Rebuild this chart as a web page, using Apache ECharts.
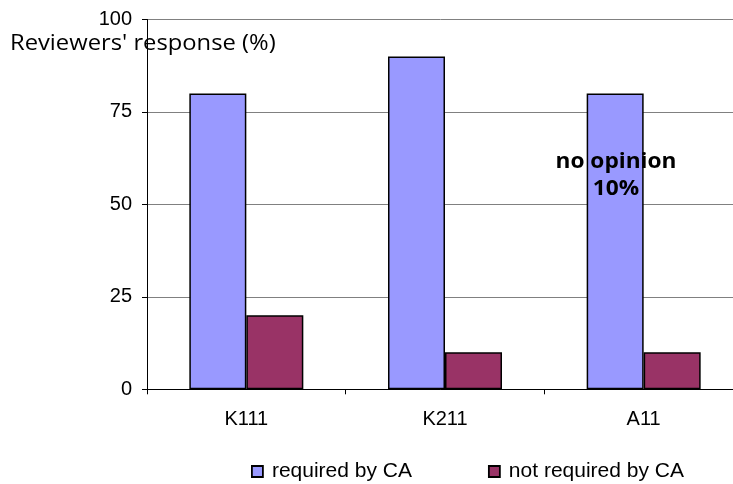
<!DOCTYPE html>
<html>
<head>
<meta charset="utf-8">
<script src="https://cdn.jsdelivr.net/npm/echarts@6/dist/echarts.min.js"></script>
<style>
  html, body { margin: 0; padding: 0; background: #fff; }
  #chart { width: 733px; height: 484px; }
</style>
</head>
<body>
<div id="chart"></div>
<script>
// Survey results per reviewer group
const categories = ['K111', 'K211', 'A11'];
const requiredByCA = [80, 90, 80];
const notRequiredByCA = [20, 10, 10];
const seriesNames = ['required by CA', 'not required by CA'];
const yTicks = { min: 0, max: 100, interval: 25 };
const axisTitle = "Reviewers' response (%)";
const noteLines = ['no opinion', '10%'];

const chart = echarts.init(document.getElementById('chart'), null, { renderer: 'canvas' });

const labelFont = 'Liberation Sans, Arial, sans-serif';
const titleFont = 'Open Sans, sans-serif';

chart.setOption({
  animation: false,
  backgroundColor: '#ffffff',
  // plot area runs slightly past the right edge of the canvas
  grid: {
    left: 147, width: 596, top: 19.5, height: 369.8,
    containLabel: false, outerBoundsMode: 'none'
  },
  legend: {
    data: seriesNames,
    top: 456,
    left: 246,
    itemWidth: 11,
    itemHeight: 11,
    itemGap: 76,
    icon: 'rect',
    itemStyle: { borderColor: '#000', borderWidth: 1.8 },
    textStyle: { fontFamily: labelFont, fontSize: 21, color: '#000', padding: [0, 0, 0, 4] }
  },
  xAxis: {
    type: 'category',
    data: categories,
    axisLine: { lineStyle: { color: '#000', width: 1 } },
    axisTick: { show: true, length: 5, lineStyle: { color: '#000' } },
    axisLabel: { fontFamily: labelFont, fontSize: 20, color: '#000', margin: 20 },
    splitLine: { show: false }
  },
  yAxis: {
    type: 'value',
    min: yTicks.min,
    max: yTicks.max,
    interval: yTicks.interval,
    axisLine: { show: true, lineStyle: { color: '#000', width: 1 } },
    axisTick: { show: true, length: 5, lineStyle: { color: '#000' } },
    axisLabel: { fontFamily: labelFont, fontSize: 20, color: '#000', margin: 15 },
    splitLine: { show: true, lineStyle: { color: '#808080', width: 1 } }
  },
  series: [
    {
      name: seriesNames[0],
      type: 'bar',
      data: requiredByCA,
      barWidth: 57,
      barGap: '0%',
      itemStyle: { color: '#9999FF', borderColor: '#000', borderWidth: 1.5 }
    },
    {
      name: seriesNames[1],
      type: 'bar',
      data: notRequiredByCA,
      barWidth: 57,
      barGap: '0%',
      itemStyle: { color: '#993366', borderColor: '#000', borderWidth: 1.5 }
    }
  ],
  graphic: [
    {
      type: 'text',
      x: 10,
      y: 44,
      scaleX: 1.08,
      z: 100,
      style: { text: axisTitle, font: '22px ' + titleFont, fill: '#000', verticalAlign: 'middle' }
    },
    {
      type: 'text',
      x: 616,
      y: 176,
      scaleX: 1.08,
      z: 100,
      style: {
        text: noteLines.join('\n'),
        font: 'bold 21px ' + titleFont,
        fill: '#000',
        align: 'center',
        verticalAlign: 'middle',
        lineHeight: 27
      }
    }
  ]
});
</script>
</body>
</html>
